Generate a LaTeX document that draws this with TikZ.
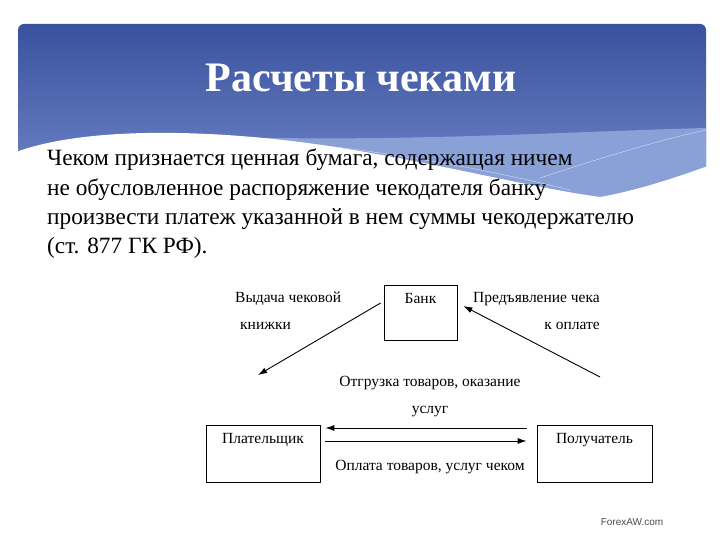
\documentclass[tikz,border=0pt]{standalone}
\usepackage{fontspec}
\setmainfont{Liberation Serif}
\newfontfamily\marksans{Liberation Sans}
\usetikzlibrary{arrows.meta}
\definecolor{hdtop}{HTML}{3A519E}
\definecolor{hdbot}{HTML}{7189CA}
\definecolor{hdband}{HTML}{8AA1D8}
\tikzset{
    box/.style={draw, line width=0.8pt, rectangle},
    lbl/.style={font=\fontsize{15.5}{27}\selectfont, inner sep=0pt},
    arr/.style={line width=0.9pt, -{Latex[length=9pt,width=6pt]}}
}
\begin{document}
\begin{tikzpicture}[x=1pt,y=-1pt]
        \useasboundingbox (0,0) rectangle (720,540);
        \fill[white] (0,0) rectangle (720,540);
        \shade[top color=hdtop, bottom color=hdbot, rounded corners=6pt] (18,24) rectangle (706,200);
        \fill[hdband] (230,137) .. controls (400,142) and (560,132) .. (706,128) -- (706,200) -- (230,200) -- cycle;
        \draw[white, very thin] (230,137) .. controls (350,145) and (470,165) .. (570,190);
        \draw[white, very thin] (706,130) .. controls (660,140) and (600,158) .. (540,178);
        \fill[white] (16,152) .. controls (70,132) and (170,126) .. (300,142) .. controls (420,158) and (520,186) .. (600,197) .. controls (640,190) and (680,176) .. (708,166) -- (708,205) -- (16,205) -- cycle;
        \node[text=white, font=\fontsize{42}{46}\bfseries\selectfont] (title) at (361,78) {Расчеты чеками};
        \node[anchor=north west, align=left, inner sep=0pt, font=\fontsize{23.3}{29.3}\selectfont] (defn) at (47,149)
            {Чеком признается ценная бумага, содержащая ничем\\не обусловленное распоряжение чекодателя банку\\произвести платеж указанной в нем суммы чекодержателю\\(ст. 877 ГК РФ).};
        % schema
        \node[box, minimum width=73pt, minimum height=55pt, label={[lbl, anchor=north, yshift=-9pt]north:Банк}] (bank) at (420.5,312.5) {};
        \node[box, minimum width=114pt, minimum height=57pt, label={[lbl, anchor=north, yshift=-9pt]north:Плательщик}] (payer) at (263,453.5) {};
        \node[box, minimum width=115pt, minimum height=57pt, label={[lbl, anchor=north, yshift=-9pt]north:Получатель}] (payee) at (594.5,453.5) {};
        \node[lbl, anchor=north west, align=left] (issue) at (235,292) {Выдача чековой\\\hspace{5pt}книжки};
        \node[lbl, anchor=north east, align=right] (present) at (600,292) {Предъявление чека\\к оплате\hspace{7pt}};
        \node[lbl, align=center] (ship) at (430,397) {Отгрузка товаров, оказание\\услуг};
        \node[lbl] (pay) at (430,467) {Оплата товаров, услуг чеком};
        \coordinate (issueEnd) at (258,375);
        \coordinate (presentStart) at (600,377);
        \draw[arr] ([xshift=-3pt,yshift=9.5pt]bank.west) -- (issueEnd);
        \draw[arr] (presentStart) -- ([xshift=6pt,yshift=6.5pt]bank.east);
        \draw[arr, shorten <=10pt, shorten >=5pt] ([yshift=25.5pt]payee.west) -- ([yshift=25.5pt]payer.east);
        \draw[arr, shorten <=5pt, shorten >=10pt] ([yshift=12.5pt]payer.east) -- ([yshift=12.5pt]payee.west);
        \node[text=black!70, font=\marksans\fontsize{10}{12}\selectfont] (mark) at (632,522) {ForexAW.com};
\end{tikzpicture}
\end{document}
